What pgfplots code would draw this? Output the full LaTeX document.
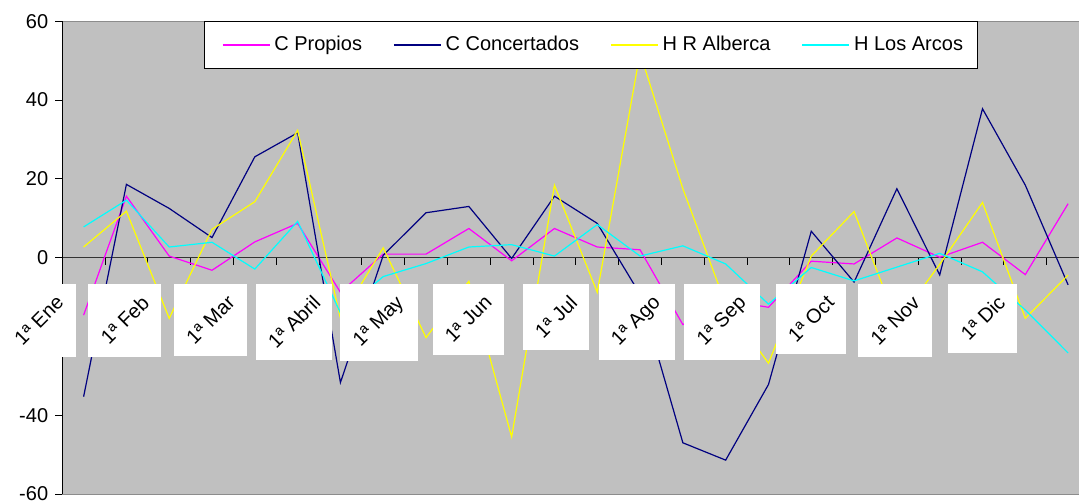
\documentclass[border=0pt]{standalone}
\usepackage{pgfplots}
\pgfplotsset{compat=1.18}
\usepackage{fontspec}
\setmainfont{Liberation Sans}
\definecolor{plotgray}{RGB}{192,192,192}
\definecolor{cnavy}{RGB}{0,0,128}
\definecolor{cmag}{RGB}{255,0,255}
\definecolor{cyel}{RGB}{255,255,0}
\definecolor{ccyan}{RGB}{0,255,255}
\pgfplotsset{
  layers/mylayers/.define layer set={axis background,axis grid,axis ticks,axis lines,pre main,main,axis tick labels,axis descriptions,axis foreground}{
    grid style={/pgfplots/on layer=axis grid},
    tick style={/pgfplots/on layer=axis ticks},
    axis line style={/pgfplots/on layer=axis lines},
    label style={/pgfplots/on layer=axis descriptions},
    legend style={/pgfplots/on layer=axis descriptions},
    title style={/pgfplots/on layer=axis descriptions},
    colorbar style={/pgfplots/on layer=axis descriptions},
    ticklabel style={/pgfplots/on layer=axis tick labels},
    axis background@ style={/pgfplots/on layer=axis background},
  },
}

\pgfplotstableread{
k  prop  conc  alb   arc
0  -14.6 -35.3  2.7   7.8
1  15.6  18.6  11.8  14.6
2  0.4   12.5 -15.4   2.7
3  -3.2   5.1   7.2   3.9
4  4.0   25.6  14.2  -2.9
5  8.7   31.7  32.3   9.2
6  -8.8 -31.7 -15.4 -14.0
7  0.9    0.6   2.5  -4.8
8  0.9   11.4 -20.3  -1.5
9  7.4   13.0  -6.0   2.7
10 -0.8  -0.2 -45.5   3.3
11 7.4   15.6  18.4   0.4
12 2.7    8.7  -8.8   8.4
13 2.0   -9.3  52.0   0.4
14 -17.0 -47.0 17.5   3.0
15 -10.8 -51.4 -11.8 -1.6
16 -12.6 -32.2 -26.8 -11.8
17 -0.9   6.7   0.4  -2.5
18 -1.6  -6.2  11.7  -5.9
19 5.0   17.5 -16.5  -2.4
20 0.1   -4.4  -1.7   1.1
21 3.9   37.8  14.0  -3.6
22 -4.3  18.4 -15.4 -13.3
23 13.7  -6.9  -4.4 -24.2
}\datatable

\begin{document}
\begin{tikzpicture}
\begin{axis}[
  set layers=mylayers,
  at={(31.1pt,3pt)}, anchor=south west,
  scale only axis, width=513.65pt, height=236.35pt,
  xmin=-0.5, xmax=23.5, ymin=-60, ymax=60,
  axis background/.style={fill=plotgray, draw=black!45, line width=0.5pt},
  axis y line=left, axis x line=middle,
  axis line style={-},
  x axis line style={black!80, line width=0.6pt},
  y axis line style={black, line width=0.6pt},
  ytick={-60,-40,-20,0,20,40,60},
  yticklabels={-60,-40,,0,20,40,60},
  tick align=outside,
  major tick length=3.5pt,
  tick style={black, line width=0.5pt},
  xtick={0.5,1.5,...,22.5},
  xticklabels={},
  extra x ticks={0,2,...,22},
  extra x tick labels={\rotatebox{45}{1ª Ene},\rotatebox{45}{1ª Feb},\rotatebox{45}{1ª Mar},\rotatebox{45}{1ª Abril},\rotatebox{45}{1ª May},\rotatebox{45}{1ª Jun},\rotatebox{45}{1ª Jul},\rotatebox{45}{1ª Ago},\rotatebox{45}{1ª Sep},\rotatebox{45}{1ª Oct},\rotatebox{45}{1ª Nov},\rotatebox{45}{1ª Dic}},
  extra x tick style={major tick length=0pt, xticklabel style={fill=white, inner sep=5.3pt, anchor=north east, xshift=-3.8pt, yshift=-12.75pt, font=\fontsize{10}{12}\selectfont}},
  yticklabel style={font=\fontsize{10}{12}\selectfont},
  legend columns=4,
  legend cell align=left,
  legend style={at={(rel axis cs:0.1380,1)}, anchor=north west, draw=black, fill=white, line width=0.5pt,
    font=\fontsize{10}{12}\selectfont, inner xsep=5.4pt, inner ysep=5.3pt,
    /tikz/every even column/.append style={column sep=10.3pt}},
  legend image code/.code={\draw[#1, line width=0.7pt] (0pt,0pt) ++(3.3pt,0pt) -- ++(23.5pt,0pt);},
  every axis plot/.append style={line width=0.6pt},
]
\addplot[cmag] table[x=k, y=prop] {\datatable};
\addlegendentry{C Propios}
\addplot[cnavy] table[x=k, y=conc] {\datatable};
\addlegendentry{C Concertados}
\addplot[cyel] table[x=k, y=alb] {\datatable};
\addlegendentry{H R Alberca}
\addplot[ccyan] table[x=k, y=arc] {\datatable};
\addlegendentry{H Los Arcos}
\end{axis}
\pgfresetboundingbox
\path[use as bounding box] (0,0) rectangle (539.5pt,250pt);
\end{tikzpicture}
\end{document}
